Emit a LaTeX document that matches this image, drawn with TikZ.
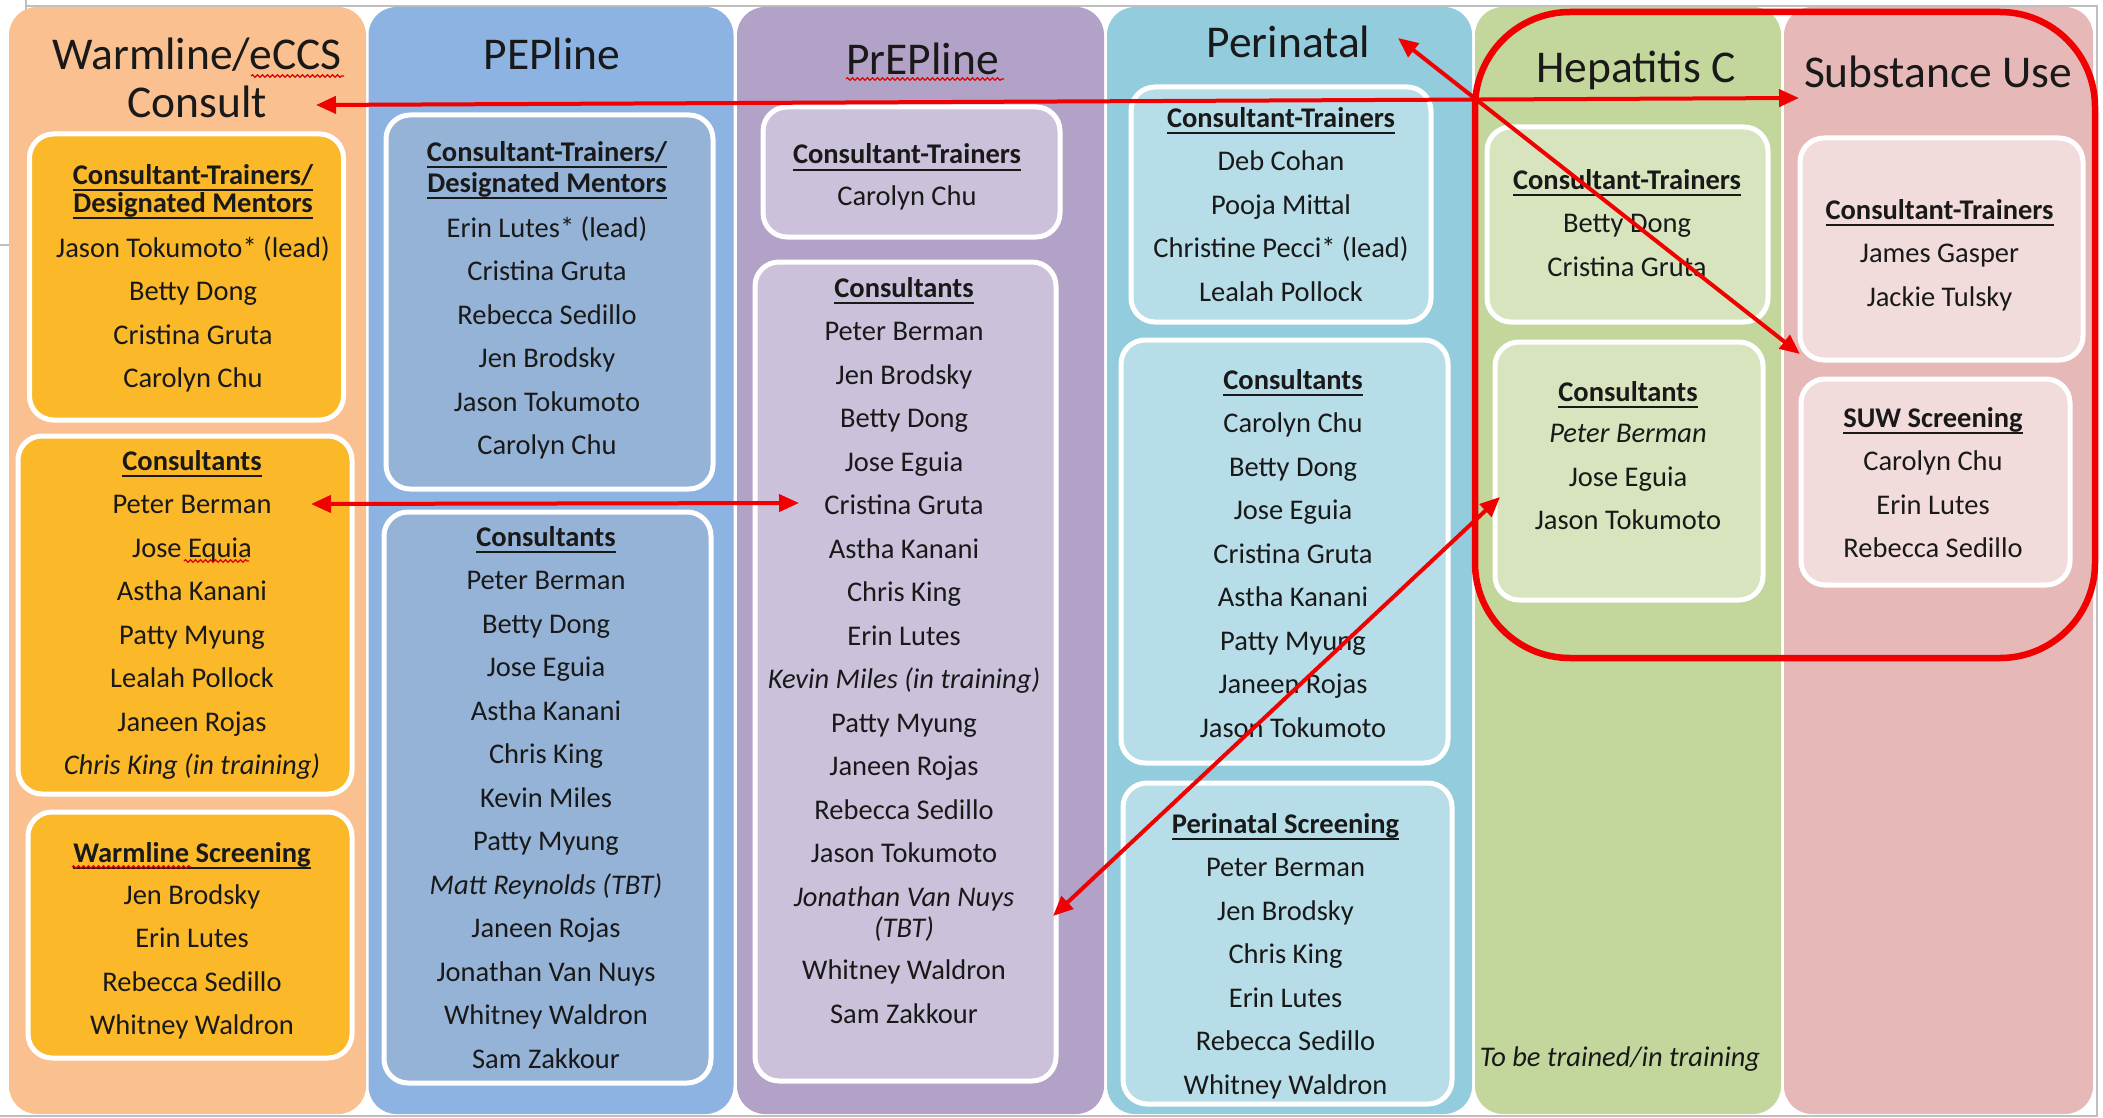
\documentclass[tikz,border=0pt]{standalone}
\usepackage{fontspec}
\setmainfont{Carlito}
\usetikzlibrary{arrows.meta,decorations.pathmorphing}
\definecolor{wmcol}{HTML}{FAC090}
\definecolor{wmbox}{HTML}{FBB829}
\definecolor{pepcol}{HTML}{8DB3E2}
\definecolor{pepbox}{HTML}{95B3D7}
\definecolor{prepcol}{HTML}{B3A2C7}
\definecolor{prepbox}{HTML}{CCC1DA}
\definecolor{percol}{HTML}{93CDDD}
\definecolor{perbox}{HTML}{B7DEE8}
\definecolor{hepcol}{HTML}{C3D69B}
\definecolor{hepbox}{HTML}{D7E4BD}
\definecolor{subcol}{HTML}{E6B9B8}
\definecolor{subbox}{HTML}{F2DCDB}
\definecolor{linkred}{HTML}{F00000}
\newcommand\hdul[1]{\setbox0=\hbox{\bfseries #1}\rlap{\rule[-7pt]{\wd0}{2.2pt}}\box0}
\begin{document}
\begin{tikzpicture}[x=1pt,y=-1pt,
  col/.style={rectangle, rounded corners=28pt, inner sep=0pt, minimum height=1107pt},
  ibox/.style={rectangle, rounded corners=24pt, draw=white, line width=5pt, inner sep=0pt},
  lst/.style={anchor=base, align=center, inner sep=0pt, font=\fontsize{28.5}{43.5}\selectfont, text=black!90},
  hdr/.style={anchor=base, align=center, inner sep=0pt, font=\fontsize{45.5}{48}\selectfont, text=black!90},
  link/.style={linkred, line width=4pt, {Triangle[length=20pt,width=17pt]}-{Triangle[length=20pt,width=17pt]}},
  squig/.style={red!85!black, line width=1.2pt, decorate, decoration={snake, amplitude=1.3pt, segment length=5pt}},
  frame/.style={black!25, line width=1.5pt}]
\useasboundingbox (0,0) rectangle (2103,1118);
\fill[white] (0,0) rectangle (2103,1118);
% faint frame
\draw[frame] (26,0) -- (26,245) -- (0,245);
\draw[frame] (26,6) -- (2097,6) -- (2097,1116) -- (0,1116);
% columns
\node (colW)    [col, fill=wmcol,   minimum width=357pt] at (187.5,560.5) {};
\node (colPEP)  [col, fill=pepcol,  minimum width=365pt] at (551,560.5) {};
\node (colPrEP) [col, fill=prepcol, minimum width=367pt] at (920.5,560.5) {};
\node (colPer)  [col, fill=percol,  minimum width=365pt] at (1289.5,560.5) {};
\node (colHep)  [col, fill=hepcol,  minimum width=306pt] at (1628,560.5) {};
\node (colSub)  [col, fill=subcol,  minimum width=309pt] at (1938.5,560.5) {};
% headers (anchor = baseline of the last line)
\node (hW)    [hdr] at (197,117.5) {Warmline/eCCS\\Consult};
\node (hPEP)  [hdr] at (552,69.5) {PEPline};
\node (hPrEP) [hdr] at (922.5,74.5) {PrEPline};
\node (hPer)  [hdr] at (1288.5,57.5) {Perinatal};
\node (hHep)  [hdr] at (1636,82.5) {Hepatitis C};
\node (hSub)  [hdr] at (1938,87.5) {Substance Use};
% inner boxes
\node (wm1)   [ibox, fill=wmbox, minimum width=314pt, minimum height=286pt] at (186.5,277) {};
\node (wm2)   [ibox, fill=wmbox, minimum width=334pt, minimum height=358pt] at (185,615) {};
\node (wm3)   [ibox, fill=wmbox, minimum width=324pt, minimum height=246pt] at (190,935) {};
\node (pep1)  [ibox, fill=pepbox, minimum width=327pt, minimum height=374pt] at (549.5,302) {};
\node (pep2)  [ibox, fill=pepbox, minimum width=327pt, minimum height=571pt] at (547.5,797.5) {};
\node (prep1) [ibox, fill=prepbox, minimum width=297pt, minimum height=130pt] at (911.5,172) {};
\node (prep2) [ibox, fill=prepbox, minimum width=301pt, minimum height=819pt] at (905.5,671.5) {};
\node (per1)  [ibox, fill=perbox, minimum width=300pt, minimum height=235pt] at (1281,204.5) {};
\node (per2)  [ibox, fill=perbox, minimum width=327pt, minimum height=423pt] at (1284.5,551.5) {};
\node (per3)  [ibox, fill=perbox, minimum width=329pt, minimum height=321pt] at (1287.5,943.5) {};
\node (hep1)  [ibox, fill=hepbox, minimum width=281pt, minimum height=195pt] at (1627.5,224.5) {};
\node (hep2)  [ibox, fill=hepbox, minimum width=268pt, minimum height=258pt] at (1629,471) {};
\node (sub1)  [ibox, fill=subbox, minimum width=283pt, minimum height=222pt] at (1941.5,249) {};
\node (sub2)  [ibox, fill=subbox, minimum width=269pt, minimum height=206pt] at (1935.5,482) {};
% texts (anchor = baseline of the last line)
\node (wm1t) [lst] at (193,387.5) {\hdul{Consultant-Trainers/}\\[-15.5pt]\hdul{Designated Mentors}\\[1.5pt]Jason Tokumoto* (lead)\\Betty Dong\\Cristina Gruta\\Carolyn Chu};
\node (wm2t) [lst] at (192,774.5) {\hdul{Consultants}\\Peter Berman\\Jose Equia\\Astha Kanani\\Patty Myung\\Lealah Pollock\\Janeen Rojas\\\textit{Chris King (in training)}};
\node (wm3t) [lst] at (192,1034.5) {\hdul{Warmline Screening}\\[-1.5pt]Jen Brodsky\\Erin Lutes\\Rebecca Sedillo\\Whitney Waldron};
\node (pep1t) [lst] at (547,454.5) {\hdul{Consultant-Trainers/}\\[-12.5pt]\hdul{Designated Mentors}\\[1.5pt]Erin Lutes* (lead)\\Cristina Gruta\\Rebecca Sedillo\\Jen Brodsky\\Jason Tokumoto\\Carolyn Chu};
\node (pep2t) [lst] at (546,1068) {\hdul{Consultants}\\Peter Berman\\Betty Dong\\Jose Eguia\\Astha Kanani\\Chris King\\Kevin Miles\\Patty Myung\\\textit{Matt Reynolds (TBT)}\\Janeen Rojas\\Jonathan Van Nuys\\Whitney Waldron\\Sam Zakkour};
\node (prep1t) [lst] at (907,206) {\hdul{Consultant-Trainers}\\[-1.5pt]Carolyn Chu};
\node (prep2t) [lst] at (904,1023) {\hdul{Consultants}\\Peter Berman\\Jen Brodsky\\Betty Dong\\Jose Eguia\\Cristina Gruta\\Astha Kanani\\Chris King\\Erin Lutes\\\textit{Kevin Miles (in training)}\\Patty Myung\\Janeen Rojas\\Rebecca Sedillo\\Jason Tokumoto\\\textit{Jonathan Van Nuys}\\[-12.5pt]\textit{(TBT)}\\[-1pt]Whitney Waldron\\Sam Zakkour};
\node (per1t) [lst] at (1281,301) {\hdul{Consultant-Trainers}\\Deb Cohan\\Pooja Mittal\\Christine Pecci* (lead)\\Lealah Pollock};
\node (per2t) [lst] at (1293,737) {\hdul{Consultants}\\Carolyn Chu\\Betty Dong\\Jose Eguia\\Cristina Gruta\\Astha Kanani\\Patty Myung\\Janeen Rojas\\Jason Tokumoto};
\node (per3t) [lst] at (1285.5,1094) {\hdul{Perinatal Screening}\\Peter Berman\\Jen Brodsky\\Chris King\\Erin Lutes\\Rebecca Sedillo\\Whitney Waldron};
\node (hep1t) [lst] at (1627,276) {\hdul{Consultant-Trainers}\\Betty Dong\\Cristina Gruta};
\node (hep2t) [lst] at (1628,529.5) {\hdul{Consultants}\\[-2pt]\textit{Peter Berman}\\Jose Eguia\\Jason Tokumoto};
\node (hepnote) [lst] at (1620,1066) {\textit{To be trained/in training}};
\node (sub1t) [lst] at (1939.5,306) {\hdul{Consultant-Trainers}\\James Gasper\\Jackie Tulsky};
\node (sub2t) [lst] at (1933,557.5) {\hdul{SUW Screening}\\Carolyn Chu\\Erin Lutes\\Rebecca Sedillo};
% spell-check squiggles
\draw[squig] (251,76) -- (344,76);
\draw[squig] (846,79) -- (1004,79);
\draw[squig] (184,561) -- (249,561);
\draw[squig] (72,867) -- (191,867);
% red outline
\node (focus) [rectangle, draw=linkred, line width=6.5pt, rounded corners=95pt, inner sep=0pt, minimum width=620pt, minimum height=646pt] at (1785,335) {};
% arrow ends
\coordinate (a1w) at (316,105);
\coordinate (a1s) at (1799,98);
\coordinate (a2p) at (1398,38);
\coordinate (a2s) at (1800,354);
\coordinate (a3w) at (311,504);
\coordinate (a3p) at (799,503);
\coordinate (a4h) at (1500,497);
\coordinate (a4p) at (1053,916);
\draw[link] (a1w) -- (a1s);
\draw[link] (a2p) -- (a2s);
\draw[link] (a3w) -- (a3p);
\draw[link] (a4h) -- (a4p);
\end{tikzpicture}
\end{document}
